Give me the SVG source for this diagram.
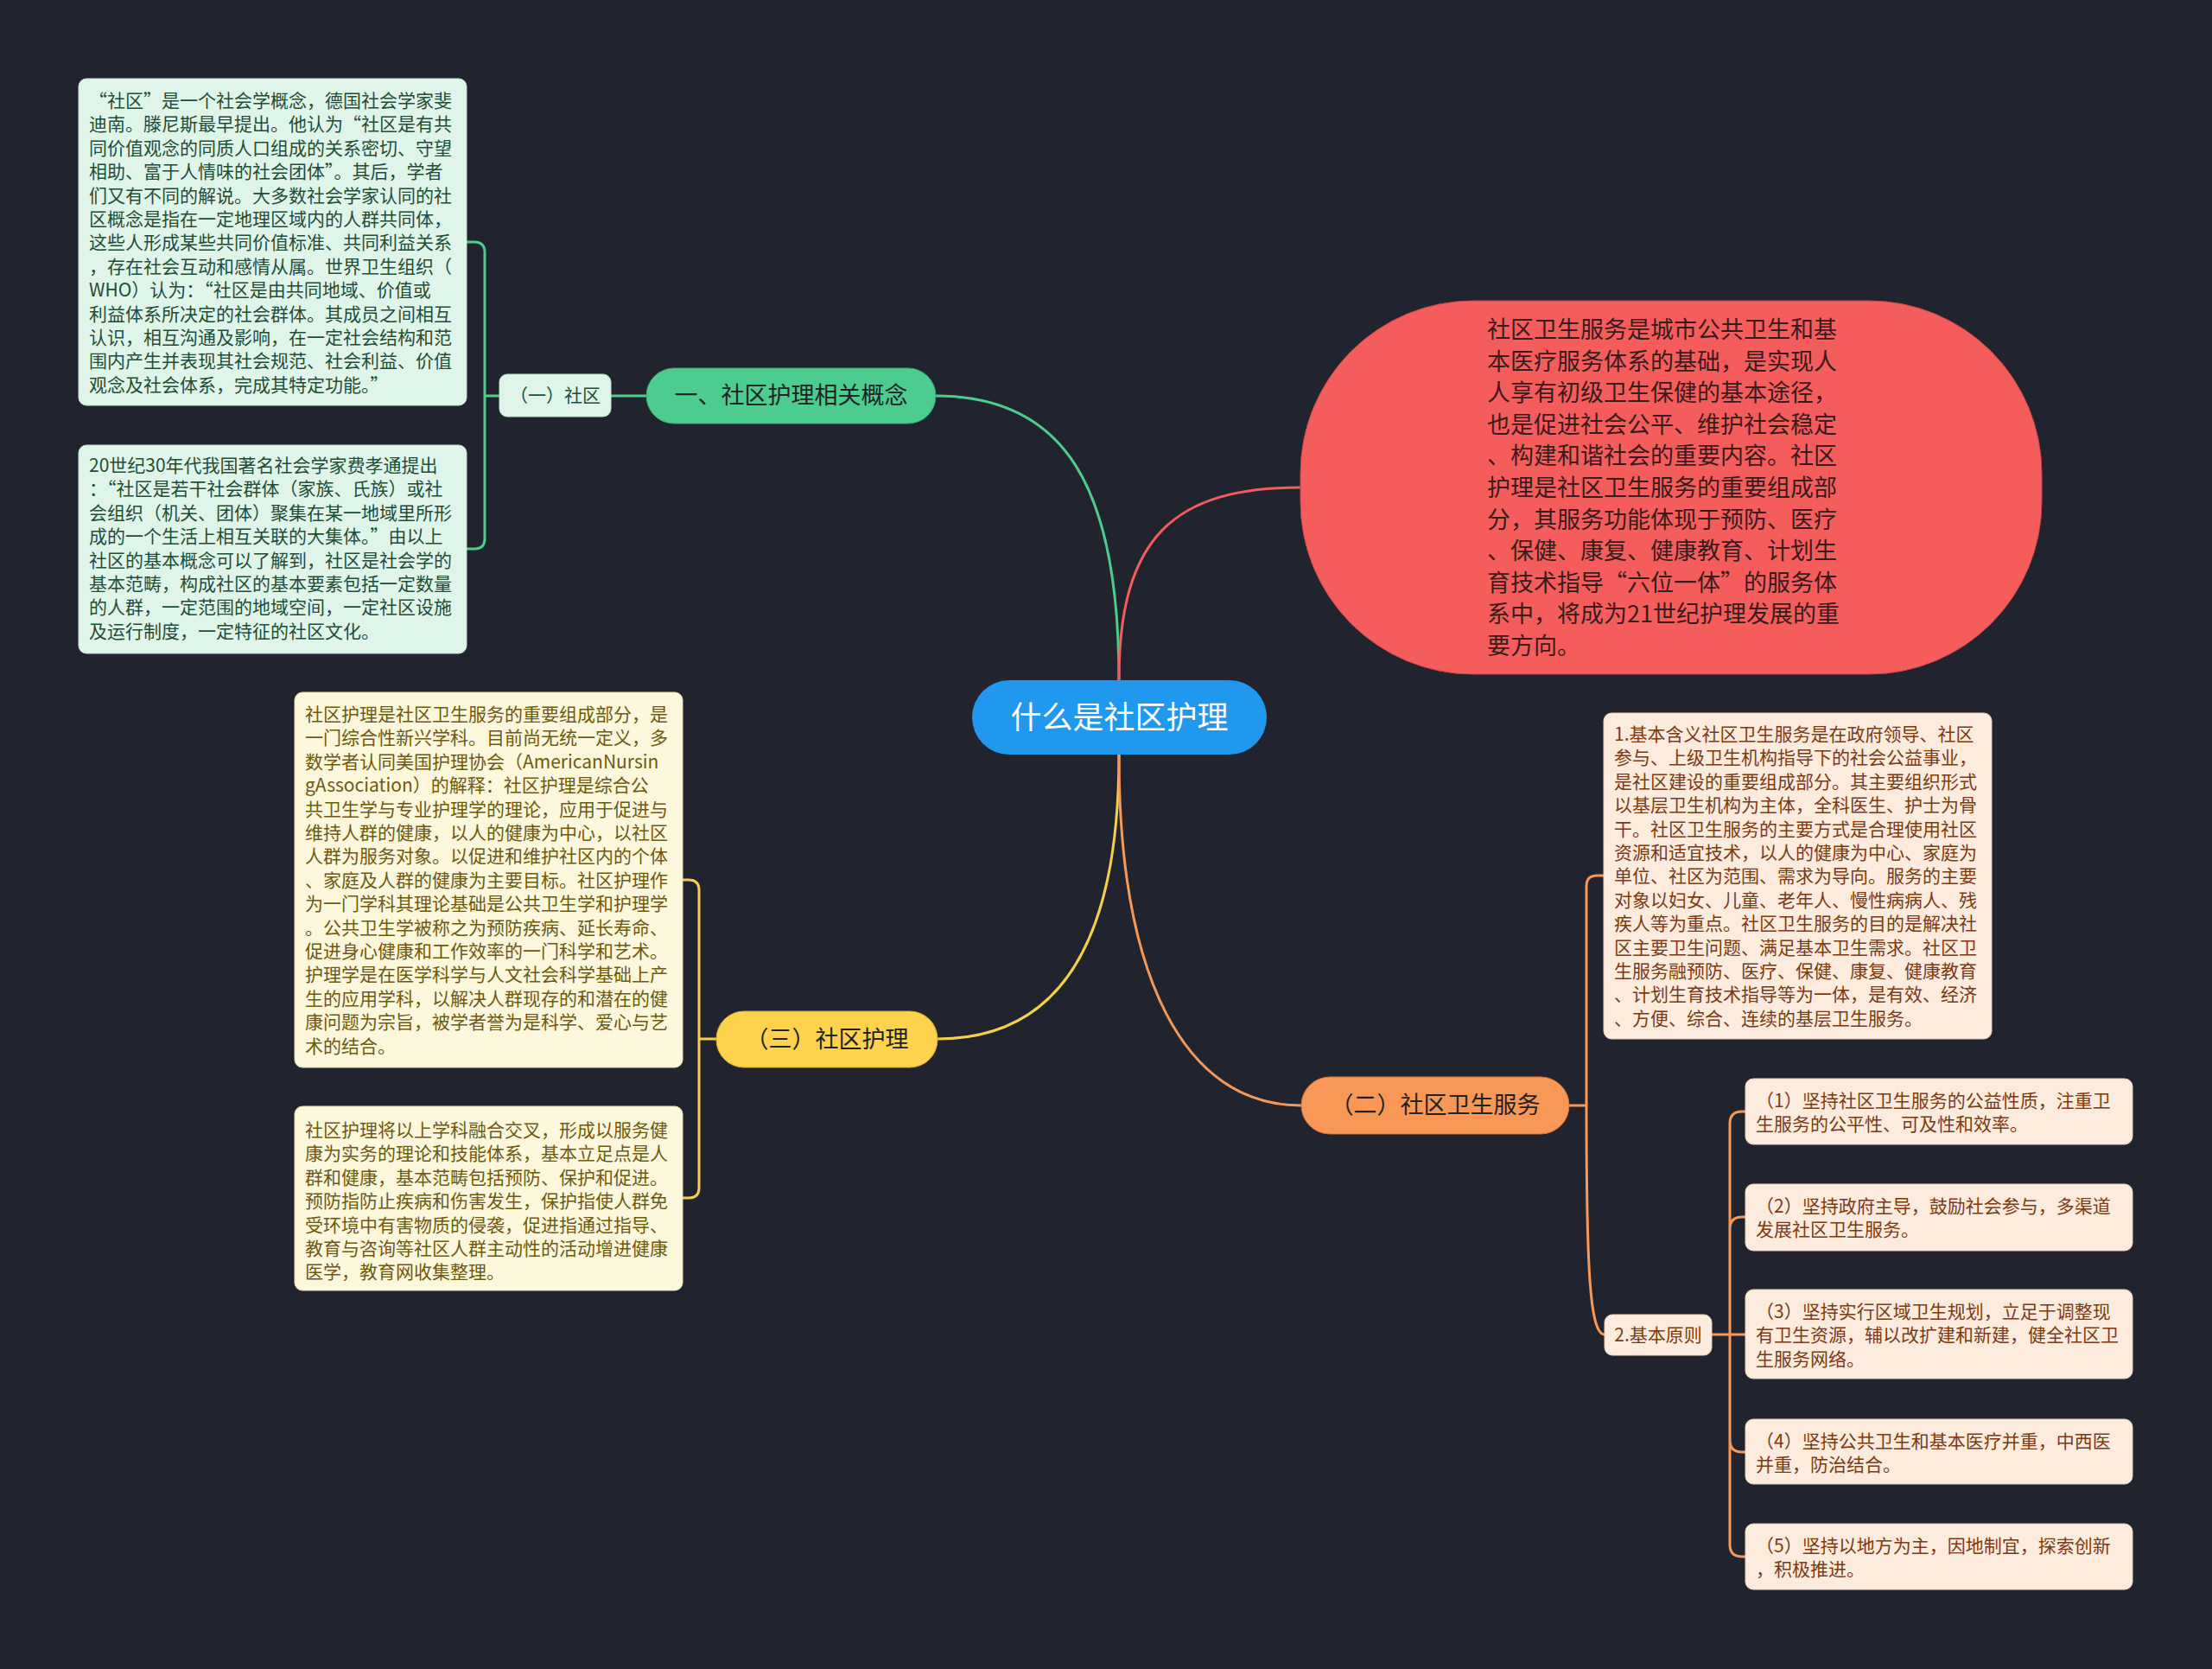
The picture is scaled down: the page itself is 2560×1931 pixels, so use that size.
<svg xmlns="http://www.w3.org/2000/svg" width="2560" height="1931" viewBox="0 0 2560 1931">
<style>
text{font-family:"Noto Sans CJK SC","Noto Sans",sans-serif;}
.c{fill:none;stroke-width:3;stroke-linecap:round;}
.g{stroke:#4ccd8f}.r{stroke:#f25d5d}.y{stroke:#f6d04c}.o{stroke:#f99856}
.mint{fill:#dff5ea;stroke:#bfe3cf;stroke-width:1}
.cream{fill:#fdf7dc;stroke:#e8ddb0;stroke-width:1}
.peach{fill:#fdebdd;stroke:#ecd0bc;stroke-width:1}
.tm{font-size:21px;fill:#1f4d37}
.ty{font-size:21px;fill:#6d5a0e}
.tp{font-size:21px;fill:#7a3a12}
.big{font-size:27px;fill:#222222}
</style>
<rect x="0" y="0" width="2560" height="1931" fill="#21242f"/>
<g id="connectors">
<path class="c g" d="M1295,787 C1295,560 1230,458 1083,458"/>
<path class="c r" d="M1295,787 C1295,620 1360,564 1505,564"/>
<path class="c y" d="M1295,873 C1295,1100 1220,1202 1085,1202"/>
<path class="c o" d="M1295,873 C1295,1130 1370,1279 1506,1279"/>
<path class="c g" d="M748,458 H707"/>
<path class="c g" d="M578,458 H561 M561,458 V292 Q561,280 549,280 H540 M561,458 V623 Q561,635 549,635 H540"/>
<path class="c y" d="M829,1202 H809 M809,1202 V1030 Q809,1018 797,1018 H790 M809,1202 V1374 Q809,1386 797,1386 H790"/>
<path class="c o" d="M1816,1279 H1836 M1836,1279 V1025 Q1836,1013 1848,1013 H1856 M1836,1279 C1836,1470 1840,1544 1857,1544"/>
<path class="c o" d="M1981,1544 H2002 M2002,1544 V1300 Q2002,1286 2016,1286 H2020 M2002,1544 V1422 Q2002,1408 2016,1408 H2020 M2002,1544 H2020 M2002,1544 V1666 Q2002,1680 2016,1680 H2020 M2002,1544 V1787 Q2002,1801 2016,1801 H2020"/>
</g>
<g id="root">
<rect x="1125" y="787" width="341" height="86" rx="43" fill="#1f98ee"/>
<text x="1295.5" y="843" text-anchor="middle" font-size="36" fill="#ffffff">什么是社区护理</text>
</g>
<g id="branch1">
<rect x="748" y="426" width="335" height="64" rx="32" fill="#4ccd8f" stroke="#3aa874" stroke-width="1"/>
<text x="915.5" y="467" text-anchor="middle" class="big">一、社区护理相关概念</text>
</g>
<g id="sub1">
<rect x="578" y="433" width="129" height="49" rx="9" class="mint"/>
<text x="642.5" y="465" text-anchor="middle" class="tm">（一）社区</text>
</g>
<g id="leaf1a">
<rect x="91" y="91" width="449" height="378" rx="9" class="mint"/>
<text class="tm"><tspan x="103" y="124">“社区”是一个社会学概念，德国社会学家斐</tspan><tspan x="103" dy="27.4">迪南。滕尼斯最早提出。他认为“社区是有共</tspan><tspan x="103" dy="27.4">同价值观念的同质人口组成的关系密切、守望</tspan><tspan x="103" dy="27.4">相助、富于人情味的社会团体”。其后，学者</tspan><tspan x="103" dy="27.4">们又有不同的解说。大多数社会学家认同的社</tspan><tspan x="103" dy="27.4">区概念是指在一定地理区域内的人群共同体，</tspan><tspan x="103" dy="27.4">这些人形成某些共同价值标准、共同利益关系</tspan><tspan x="103" dy="27.4">，存在社会互动和感情从属。世界卫生组织（</tspan><tspan x="103" dy="27.4">WHO）认为：“社区是由共同地域、价值或</tspan><tspan x="103" dy="27.4">利益体系所决定的社会群体。其成员之间相互</tspan><tspan x="103" dy="27.4">认识，相互沟通及影响，在一定社会结构和范</tspan><tspan x="103" dy="27.4">围内产生并表现其社会规范、社会利益、价值</tspan><tspan x="103" dy="27.4">观念及社会体系，完成其特定功能。”</tspan></text>
</g>
<g id="leaf1b">
<rect x="91" y="515" width="449" height="241" rx="9" class="mint"/>
<text class="tm"><tspan x="103" y="546">20世纪30年代我国著名社会学家费孝通提出</tspan><tspan x="103" dy="27.4">：“社区是若干社会群体（家族、氏族）或社</tspan><tspan x="103" dy="27.4">会组织（机关、团体）聚集在某一地域里所形</tspan><tspan x="103" dy="27.4">成的一个生活上相互关联的大集体。”由以上</tspan><tspan x="103" dy="27.4">社区的基本概念可以了解到，社区是社会学的</tspan><tspan x="103" dy="27.4">基本范畴，构成社区的基本要素包括一定数量</tspan><tspan x="103" dy="27.4">的人群，一定范围的地域空间，一定社区设施</tspan><tspan x="103" dy="27.4">及运行制度，一定特征的社区文化。</tspan></text>
</g>
<g id="branch2">
<rect x="1505" y="348" width="858" height="432" rx="200" ry="200" fill="#f55d5d" stroke="#c94848" stroke-width="1"/>
<text font-size="27" fill="#3a1a1a"><tspan x="1721" y="391">社区卫生服务是城市公共卫生和基</tspan><tspan x="1721" dy="36.6">本医疗服务体系的基础，是实现人</tspan><tspan x="1721" dy="36.6">人享有初级卫生保健的基本途径，</tspan><tspan x="1721" dy="36.6">也是促进社会公平、维护社会稳定</tspan><tspan x="1721" dy="36.6">、构建和谐社会的重要内容。社区</tspan><tspan x="1721" dy="36.6">护理是社区卫生服务的重要组成部</tspan><tspan x="1721" dy="36.6">分，其服务功能体现于预防、医疗</tspan><tspan x="1721" dy="36.6">、保健、康复、健康教育、计划生</tspan><tspan x="1721" dy="36.6">育技术指导“六位一体”的服务体</tspan><tspan x="1721" dy="36.6">系中，将成为21世纪护理发展的重</tspan><tspan x="1721" dy="36.6">要方向。</tspan></text>
</g>
<g id="branch3">
<rect x="829" y="1170" width="256" height="65" rx="32" fill="#fdd34d" stroke="#d4ad2c" stroke-width="1"/>
<text x="957" y="1212" text-anchor="middle" class="big">（三）社区护理</text>
</g>
<g id="leaf3a">
<rect x="341" y="801" width="449" height="434" rx="9" class="cream"/>
<text class="ty"><tspan x="353" y="834">社区护理是社区卫生服务的重要组成部分，是</tspan><tspan x="353" dy="27.4">一门综合性新兴学科。目前尚无统一定义，多</tspan><tspan x="353" dy="27.4">数学者认同美国护理协会（AmericanNursin</tspan><tspan x="353" dy="27.4">gAssociation）的解释：社区护理是综合公</tspan><tspan x="353" dy="27.4">共卫生学与专业护理学的理论，应用于促进与</tspan><tspan x="353" dy="27.4">维持人群的健康，以人的健康为中心，以社区</tspan><tspan x="353" dy="27.4">人群为服务对象。以促进和维护社区内的个体</tspan><tspan x="353" dy="27.4">、家庭及人群的健康为主要目标。社区护理作</tspan><tspan x="353" dy="27.4">为一门学科其理论基础是公共卫生学和护理学</tspan><tspan x="353" dy="27.4">。公共卫生学被称之为预防疾病、延长寿命、</tspan><tspan x="353" dy="27.4">促进身心健康和工作效率的一门科学和艺术。</tspan><tspan x="353" dy="27.4">护理学是在医学科学与人文社会科学基础上产</tspan><tspan x="353" dy="27.4">生的应用学科，以解决人群现存的和潜在的健</tspan><tspan x="353" dy="27.4">康问题为宗旨，被学者誉为是科学、爱心与艺</tspan><tspan x="353" dy="27.4">术的结合。</tspan></text>
</g>
<g id="leaf3b">
<rect x="341" y="1280" width="449" height="213" rx="9" class="cream"/>
<text class="ty"><tspan x="353" y="1315">社区护理将以上学科融合交叉，形成以服务健</tspan><tspan x="353" dy="27.4">康为实务的理论和技能体系，基本立足点是人</tspan><tspan x="353" dy="27.4">群和健康，基本范畴包括预防、保护和促进。</tspan><tspan x="353" dy="27.4">预防指防止疾病和伤害发生，保护指使人群免</tspan><tspan x="353" dy="27.4">受环境中有害物质的侵袭，促进指通过指导、</tspan><tspan x="353" dy="27.4">教育与咨询等社区人群主动性的活动增进健康</tspan><tspan x="353" dy="27.4">医学，教育网收集整理。</tspan></text>
</g>
<g id="branch4">
<rect x="1506" y="1246" width="310" height="66" rx="33" fill="#f99856" stroke="#d07838" stroke-width="1"/>
<text x="1661" y="1288" text-anchor="middle" class="big">（二）社区卫生服务</text>
</g>
<g id="leaf4a">
<rect x="1856" y="825" width="449" height="377" rx="9" class="peach"/>
<text class="tp"><tspan x="1868" y="857">1.基本含义社区卫生服务是在政府领导、社区</tspan><tspan x="1868" dy="27.4">参与、上级卫生机构指导下的社会公益事业，</tspan><tspan x="1868" dy="27.4">是社区建设的重要组成部分。其主要组织形式</tspan><tspan x="1868" dy="27.4">以基层卫生机构为主体，全科医生、护士为骨</tspan><tspan x="1868" dy="27.4">干。社区卫生服务的主要方式是合理使用社区</tspan><tspan x="1868" dy="27.4">资源和适宜技术，以人的健康为中心、家庭为</tspan><tspan x="1868" dy="27.4">单位、社区为范围、需求为导向。服务的主要</tspan><tspan x="1868" dy="27.4">对象以妇女、儿童、老年人、慢性病病人、残</tspan><tspan x="1868" dy="27.4">疾人等为重点。社区卫生服务的目的是解决社</tspan><tspan x="1868" dy="27.4">区主要卫生问题、满足基本卫生需求。社区卫</tspan><tspan x="1868" dy="27.4">生服务融预防、医疗、保健、康复、健康教育</tspan><tspan x="1868" dy="27.4">、计划生育技术指导等为一体，是有效、经济</tspan><tspan x="1868" dy="27.4">、方便、综合、连续的基层卫生服务。</tspan></text>
</g>
<g id="sub4b">
<rect x="1857" y="1521" width="124" height="47" rx="9" class="peach"/>
<text x="1919" y="1552" text-anchor="middle" class="tp">2.基本原则</text>
</g>
<g id="p1">
<rect x="2020" y="1248" width="448" height="76" rx="9" class="peach"/>
<text class="tp"><tspan x="2032" y="1281">（1）坚持社区卫生服务的公益性质，注重卫</tspan><tspan x="2032" dy="27.4">生服务的公平性、可及性和效率。</tspan></text>
</g>
<g id="p2">
<rect x="2020" y="1370" width="448" height="77" rx="9" class="peach"/>
<text class="tp"><tspan x="2032" y="1403">（2）坚持政府主导，鼓励社会参与，多渠道</tspan><tspan x="2032" dy="27.4">发展社区卫生服务。</tspan></text>
</g>
<g id="p3">
<rect x="2020" y="1492" width="448" height="103" rx="9" class="peach"/>
<text class="tp"><tspan x="2032" y="1525">（3）坚持实行区域卫生规划，立足于调整现</tspan><tspan x="2032" dy="27.4">有卫生资源，辅以改扩建和新建，健全社区卫</tspan><tspan x="2032" dy="27.4">生服务网络。</tspan></text>
</g>
<g id="p4">
<rect x="2020" y="1642" width="448" height="75" rx="9" class="peach"/>
<text class="tp"><tspan x="2032" y="1675">（4）坚持公共卫生和基本医疗并重，中西医</tspan><tspan x="2032" dy="27.4">并重，防治结合。</tspan></text>
</g>
<g id="p5">
<rect x="2020" y="1763" width="448" height="76" rx="9" class="peach"/>
<text class="tp"><tspan x="2032" y="1796">（5）坚持以地方为主，因地制宜，探索创新</tspan><tspan x="2032" dy="27.4">，积极推进。</tspan></text>
</g>
</svg>
